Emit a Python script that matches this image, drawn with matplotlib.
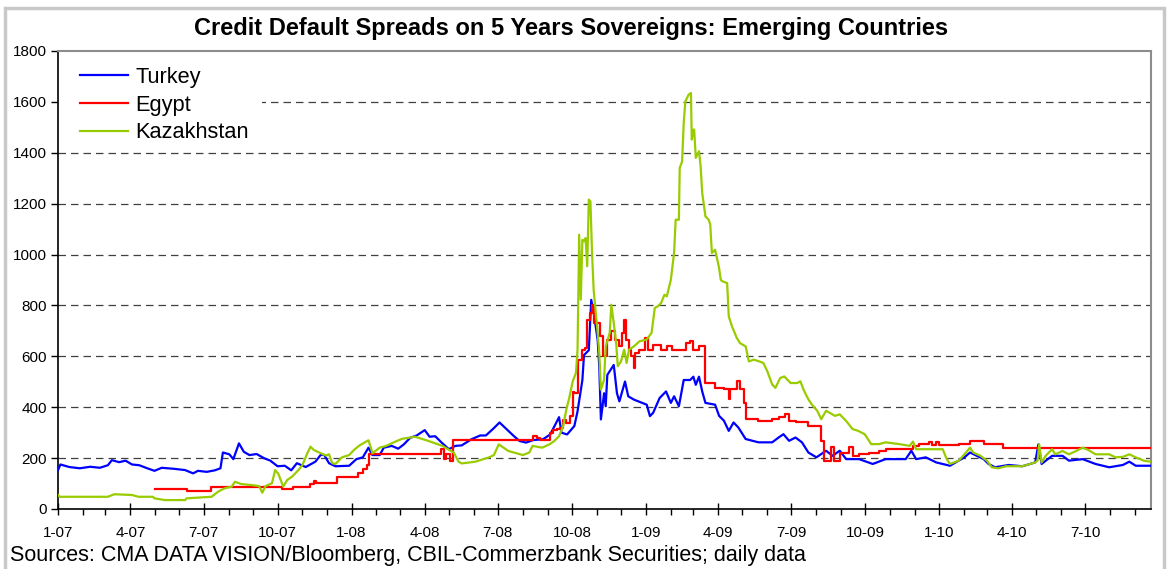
import matplotlib
matplotlib.use("Agg")
import matplotlib.pyplot as plt
import matplotlib.dates as mdates
from matplotlib.patches import Rectangle
from matplotlib.ticker import FuncFormatter, MultipleLocator
import numpy as np
import pandas as pd

plt.rcParams['font.family'] = ['Liberation Sans', 'DejaVu Sans']

# daily CDS spreads (bp)
turkey_dates = [
    "2007-01-01", "2007-01-04", "2007-01-15", "2007-01-28", "2007-02-10", "2007-02-22", "2007-03-04",
    "2007-03-09", "2007-03-18", "2007-03-26", "2007-04-03", "2007-04-12", "2007-04-22", "2007-05-01",
    "2007-05-10", "2007-05-25", "2007-06-08", "2007-06-18", "2007-06-24", "2007-07-05", "2007-07-15",
    "2007-07-22", "2007-07-25", "2007-08-02", "2007-08-07", "2007-08-14", "2007-08-20", "2007-08-27",
    "2007-09-05", "2007-09-14", "2007-09-22", "2007-10-01", "2007-10-10", "2007-10-18", "2007-10-25",
    "2007-11-05", "2007-11-17", "2007-11-24", "2007-11-28", "2007-12-04", "2007-12-12", "2007-12-29",
    "2008-01-07", "2008-01-15", "2008-01-22", "2008-01-27", "2008-02-05", "2008-02-10", "2008-02-20",
    "2008-02-28", "2008-03-06", "2008-03-14", "2008-03-22", "2008-04-01", "2008-04-07", "2008-04-14",
    "2008-04-22", "2008-05-01", "2008-05-09", "2008-05-17", "2008-05-29", "2008-06-09", "2008-06-16",
    "2008-06-25", "2008-07-03", "2008-07-10", "2008-07-21", "2008-07-28", "2008-08-05", "2008-08-14",
    "2008-08-26", "2008-09-04", "2008-09-15", "2008-09-18", "2008-09-25", "2008-10-04", "2008-10-08",
    "2008-10-14", "2008-10-16", "2008-10-22", "2008-10-25", "2008-10-28", "2008-11-02", "2008-11-04",
    "2008-11-06", "2008-11-08", "2008-11-10", "2008-11-12", "2008-11-14", "2008-11-22", "2008-11-26",
    "2008-11-29", "2008-12-06", "2008-12-10", "2008-12-17", "2009-01-02", "2009-01-06", "2009-01-10",
    "2009-01-18", "2009-01-26", "2009-02-01", "2009-02-05", "2009-02-11", "2009-02-17", "2009-02-25",
    "2009-03-01", "2009-03-04", "2009-03-08", "2009-03-12", "2009-03-16", "2009-03-28", "2009-04-02",
    "2009-04-08", "2009-04-14", "2009-04-20", "2009-04-26", "2009-05-05", "2009-05-21", "2009-06-07",
    "2009-06-15", "2009-06-21", "2009-06-28", "2009-07-06", "2009-07-14", "2009-07-22", "2009-08-01",
    "2009-08-13", "2009-08-21", "2009-08-30", "2009-09-07", "2009-09-23", "2009-10-10", "2009-10-26",
    "2009-11-20", "2009-11-27", "2009-12-03", "2009-12-15", "2009-12-28", "2010-01-14", "2010-02-01",
    "2010-02-08", "2010-02-25", "2010-03-03", "2010-03-11", "2010-03-28", "2010-04-14", "2010-04-30",
    "2010-05-04", "2010-05-08", "2010-05-21", "2010-06-03", "2010-06-11", "2010-06-28", "2010-07-14",
    "2010-07-31", "2010-08-17", "2010-08-25", "2010-09-02", "2010-09-20",
]
turkey_vals = [
    153, 175, 165, 160, 166, 162, 172,
    192, 184, 190, 175, 172, 160, 150,
    162, 158, 153, 140, 150, 146, 152,
    160, 222, 215, 196, 258, 225, 212,
    216, 200, 190, 168, 170, 152, 180,
    165, 186, 214, 212, 180, 168, 170,
    196, 203, 241, 212, 212, 241, 248,
    237, 254, 280, 289, 310, 284, 286,
    261, 235, 248, 250, 274, 289, 289,
    315, 340, 319, 286, 267, 261, 271,
    274, 293, 361, 300, 293, 326, 384,
    507, 605, 624, 822, 774, 664, 560,
    352, 404, 455, 404, 527, 566, 455,
    423, 501, 443, 430, 410, 365, 378,
    436, 462, 417, 443, 404, 507, 507,
    520, 488, 520, 462, 417, 410, 366,
    347, 307, 340, 320, 275, 262, 262,
    281, 294, 268, 281, 262, 222, 203,
    229, 209, 229, 196, 196, 177, 196,
    196, 229, 196, 203, 183, 170, 203,
    222, 196, 177, 164, 173, 168, 183,
    254, 177, 209, 209, 190, 196, 177,
    164, 173, 186, 170, 170,
]

egypt_dates = [
    "2007-05-01", "2007-06-10", "2007-07-10", "2007-10-06", "2007-10-20", "2007-11-10", "2007-11-15",
    "2007-11-18", "2007-12-14", "2008-01-09", "2008-01-15", "2008-01-20", "2008-01-23", "2008-04-21",
    "2008-04-25", "2008-04-28", "2008-05-02", "2008-05-06", "2008-08-13", "2008-08-18", "2008-08-22",
    "2008-09-04", "2008-09-08", "2008-09-12", "2008-09-16", "2008-09-20", "2008-09-24", "2008-09-28",
    "2008-10-02", "2008-10-04", "2008-10-09", "2008-10-13", "2008-10-17", "2008-10-20", "2008-10-23",
    "2008-10-26", "2008-10-29", "2008-11-05", "2008-11-09", "2008-11-13", "2008-11-18", "2008-11-23",
    "2008-11-29", "2008-12-02", "2008-12-05", "2008-12-07", "2008-12-11", "2008-12-14", "2008-12-17",
    "2008-12-19", "2008-12-24", "2008-12-31", "2009-01-04", "2009-01-10", "2009-01-20", "2009-01-27",
    "2009-02-03", "2009-02-20", "2009-02-25", "2009-02-28", "2009-03-08", "2009-03-16", "2009-03-28",
    "2009-04-08", "2009-04-14", "2009-04-16", "2009-04-24", "2009-04-28", "2009-05-03", "2009-05-05",
    "2009-05-20", "2009-06-07", "2009-06-15", "2009-06-23", "2009-06-28", "2009-07-06", "2009-07-22",
    "2009-08-07", "2009-08-11", "2009-08-19", "2009-08-23", "2009-08-30", "2009-09-11", "2009-09-15",
    "2009-09-23", "2009-10-05", "2009-10-18", "2009-10-26", "2009-11-29", "2009-12-07", "2009-12-19",
    "2009-12-23", "2009-12-28", "2010-01-01", "2010-01-25", "2010-02-08", "2010-02-25", "2010-03-21",
    "2010-09-20",
]
egypt_vals = [
    80, 71, 88, 79, 88, 97, 110,
    101, 127, 142, 157, 173, 215, 235,
    196, 215, 190, 271, 286, 280, 271,
    299, 312, 316, 319, 351, 338, 364,
    461, 456, 587, 626, 633, 744, 770,
    803, 731, 679, 600, 666, 698, 666,
    639, 692, 744, 666, 626, 600, 554,
    613, 626, 672, 626, 646, 626, 639,
    626, 652, 659, 626, 639, 497, 477,
    470, 431, 470, 503, 470, 418, 353,
    347, 353, 360, 373, 347, 340, 327,
    268, 190, 242, 190, 222, 242, 209,
    216, 222, 229, 235, 248, 255, 263,
    250, 263, 250, 257, 269, 257, 238,
    238,
]

kazakh_dates = [
    "2007-01-01", "2007-01-03", "2007-03-04", "2007-03-12", "2007-04-03", "2007-04-11", "2007-04-29",
    "2007-05-01", "2007-05-14", "2007-06-08", "2007-06-10", "2007-07-11", "2007-07-19", "2007-07-27",
    "2007-08-05", "2007-08-09", "2007-08-17", "2007-08-30", "2007-09-08", "2007-09-12", "2007-09-16",
    "2007-09-24", "2007-09-28", "2007-10-02", "2007-10-08", "2007-10-13", "2007-10-19", "2007-10-27",
    "2007-11-01", "2007-11-07", "2007-11-11", "2007-11-15", "2007-11-24", "2007-11-30", "2007-12-04",
    "2007-12-08", "2007-12-12", "2007-12-20", "2007-12-29", "2008-01-05", "2008-01-11", "2008-01-17",
    "2008-01-22", "2008-01-25", "2008-01-27", "2008-02-05", "2008-02-13", "2008-02-26", "2008-03-04",
    "2008-03-20", "2008-04-06", "2008-04-23", "2008-05-07", "2008-05-13", "2008-05-17", "2008-06-03",
    "2008-06-20", "2008-06-26", "2008-07-02", "2008-07-14", "2008-08-01", "2008-08-09", "2008-08-13",
    "2008-08-25", "2008-09-03", "2008-09-09", "2008-09-15", "2008-09-20", "2008-09-24", "2008-09-28",
    "2008-10-02", "2008-10-06", "2008-10-08", "2008-10-10", "2008-10-12", "2008-10-14", "2008-10-16",
    "2008-10-18", "2008-10-20", "2008-10-22", "2008-10-24", "2008-10-26", "2008-10-28", "2008-11-02",
    "2008-11-04", "2008-11-06", "2008-11-10", "2008-11-12", "2008-11-17", "2008-11-19", "2008-11-22",
    "2008-11-25", "2008-11-27", "2008-12-01", "2008-12-05", "2008-12-08", "2008-12-11", "2008-12-17",
    "2008-12-24", "2009-01-02", "2009-01-08", "2009-01-12", "2009-01-16", "2009-01-20", "2009-01-24",
    "2009-01-27", "2009-02-01", "2009-02-05", "2009-02-07", "2009-02-11", "2009-02-12", "2009-02-15",
    "2009-02-17", "2009-02-19", "2009-02-23", "2009-02-26", "2009-02-27", "2009-03-01", "2009-03-02",
    "2009-03-04", "2009-03-08", "2009-03-10", "2009-03-12", "2009-03-16", "2009-03-20", "2009-03-22",
    "2009-03-24", "2009-03-28", "2009-04-02", "2009-04-04", "2009-04-06", "2009-04-12", "2009-04-14",
    "2009-04-18", "2009-04-24", "2009-04-28", "2009-05-05", "2009-05-09", "2009-05-15", "2009-05-22",
    "2009-05-27", "2009-06-01", "2009-06-07", "2009-06-11", "2009-06-17", "2009-06-22", "2009-06-30",
    "2009-07-08", "2009-07-12", "2009-07-16", "2009-07-20", "2009-07-22", "2009-07-26", "2009-08-02",
    "2009-08-07", "2009-08-13", "2009-08-17", "2009-08-24", "2009-08-30", "2009-09-07", "2009-09-15",
    "2009-09-22", "2009-09-30", "2009-10-04", "2009-10-08", "2009-10-18", "2009-10-26", "2009-11-12",
    "2009-11-25", "2009-11-29", "2009-12-03", "2009-12-20", "2010-01-05", "2010-01-10", "2010-01-14",
    "2010-01-25", "2010-02-01", "2010-02-08", "2010-02-12", "2010-02-21", "2010-03-01", "2010-03-07",
    "2010-03-15", "2010-03-25", "2010-04-14", "2010-04-30", "2010-05-03", "2010-05-05", "2010-05-08",
    "2010-05-13", "2010-05-21", "2010-05-25", "2010-06-03", "2010-06-11", "2010-06-20", "2010-06-28",
    "2010-07-05", "2010-07-14", "2010-07-31", "2010-08-08", "2010-08-17", "2010-08-25", "2010-09-02",
    "2010-09-12", "2010-09-20",
]
kazakh_vals = [
    55, 48, 48, 58, 55, 48, 48,
    42, 35, 35, 42, 48, 68, 81,
    88, 107, 98, 94, 90, 64, 90,
    101, 153, 138, 88, 114, 127, 153,
    173, 219, 245, 232, 219, 210, 215,
    180, 177, 203, 212, 235, 250, 261,
    270, 241, 219, 241, 248, 267, 276,
    284, 267, 248, 222, 186, 179, 186,
    203, 212, 254, 228, 212, 222, 248,
    241, 254, 267, 286, 325, 390, 441,
    502, 535, 626, 1078, 823, 1058, 1052,
    1065, 954, 1216, 1209, 1006, 862, 692,
    613, 469, 508, 639, 692, 803, 731,
    652, 561, 580, 626, 574, 626, 639,
    659, 666, 692, 790, 797, 810, 842,
    836, 901, 1006, 1137, 1137, 1340, 1366,
    1517, 1602, 1628, 1635, 1452, 1491, 1491,
    1380, 1406, 1347, 1242, 1150, 1137, 1118,
    1006, 1019, 947, 901, 895, 888, 757,
    718, 672, 652, 639, 580, 587, 580,
    574, 541, 489, 476, 515, 521, 495,
    495, 502, 469, 443, 431, 412, 386,
    353, 386, 379, 366, 372, 346, 314,
    307, 294, 275, 255, 255, 262, 255,
    248, 265, 235, 235, 235, 196, 177,
    190, 215, 241, 222, 209, 190, 164,
    160, 168, 168, 183, 190, 254, 183,
    209, 235, 215, 228, 215, 228, 241,
    232, 215, 215, 203, 205, 215, 203,
    190, 186,
]

W, H = 1168, 569
fig = plt.figure(figsize=(W / 100, H / 100), dpi=100)
ax = fig.add_axes([58 / W, 1 - 509 / H, (1151 - 58) / W, (509 - 51) / H])

# outer grey frame of the chart object
fig.patches.append(Rectangle((5 / W, -0.05), (1164 - 5) / W, 1.05 - 8 / H, transform=fig.transFigure,
                             fill=False, edgecolor="#c8c8c8", linewidth=2.5, zorder=0))

ax.plot(pd.to_datetime(turkey_dates), turkey_vals, color="#0000ff", lw=1.6, label="Turkey", zorder=3)
ax.plot(pd.to_datetime(egypt_dates), egypt_vals, color="#ff0000", lw=1.6, label="Egypt",
        drawstyle="steps-post", zorder=3)
ax.plot(pd.to_datetime(kazakh_dates), kazakh_vals, color="#99cc00", lw=1.6, label="Kazakhstan", zorder=3)

ax.set_ylim(0, 1800)
ax.set_xlim(pd.Timestamp("2007-01-01"), pd.Timestamp("2010-09-21"))
ax.yaxis.set_major_locator(MultipleLocator(200))
ax.xaxis.set_major_locator(mdates.MonthLocator(bymonth=[1, 4, 7, 10]))
ax.xaxis.set_minor_locator(mdates.MonthLocator())
ax.xaxis.set_major_formatter(FuncFormatter(lambda v, p: "%d-%s" % (mdates.num2date(v).month,
                                                                    mdates.num2date(v).strftime("%y"))))

for yv in range(200, 1800, 200):
    ax.axhline(yv, color="#404040", lw=0.9, linestyle=(0, (6, 4)), zorder=1)

# legend sits on a white box that hides the gridline behind it
ax.add_patch(Rectangle((0, 1480), 0.187, 320, transform=ax.get_yaxis_transform(), facecolor="white",
                       edgecolor="none", zorder=2))
leg = ax.legend(loc="upper left", bbox_to_anchor=(0.0125, 0.984), frameon=False, fontsize=15.7,
                handlelength=2.2, handletextpad=0.33, labelspacing=0.3, borderaxespad=0)

ax.tick_params(axis="y", direction="out", length=5, width=1, labelsize=11, pad=3)
ax.tick_params(axis="x", which="major", direction="inout", length=8, width=1, labelsize=11, pad=8)
ax.tick_params(axis="x", which="minor", direction="out", length=4, width=1)

for side in ["left", "bottom"]:
    ax.spines[side].set_color("black")
    ax.spines[side].set_linewidth(1.2)
for side in ["top", "right"]:
    ax.spines[side].set_color("#8c8c8c")
    ax.spines[side].set_linewidth(1.5)

fig.text(571 / W, 1 - 28 / H, "Credit Default Spreads on 5 Years Sovereigns: Emerging Countries",
         ha="center", va="center", fontsize=17, fontweight="bold")
fig.text(10 / W, 1 - 556 / H, "Sources: CMA DATA VISION/Bloomberg, CBIL-Commerzbank Securities; daily data",
         ha="left", va="center", fontsize=15.5)

fig.savefig("out.png", dpi=100)
